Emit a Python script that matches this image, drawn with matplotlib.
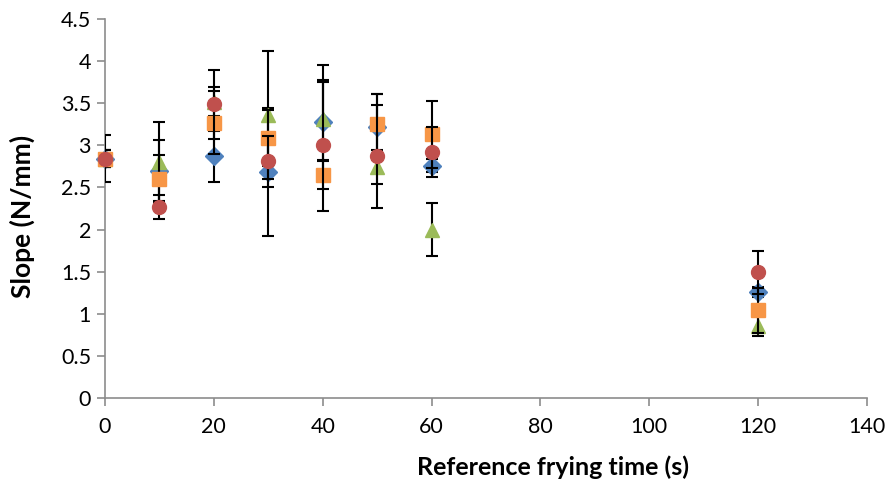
import matplotlib
matplotlib.use("Agg")
import matplotlib.pyplot as plt
from matplotlib.ticker import FuncFormatter

plt.rcParams["font.family"] = ["Lato", "DejaVu Sans"]

# reference frying time (s) and slope (N/mm) with standard deviations
time = [0, 10, 20, 30, 40, 50, 60, 120]

blue_vals = [2.84, 2.70, 2.87, 2.68, 3.28, 3.22, 2.76, 1.26]
blue_err = [0.10, 0.36, 0.30, 0.76, 0.47, 0.39, 0.08, 0.06]

green_vals = [2.84, 2.80, 3.52, 3.36, 3.31, 2.74, 2.00, 0.85]
green_err = [0.10, 0.48, 0.17, 0.76, 0.64, 0.20, 0.32, 0.12]

orange_vals = [2.84, 2.60, 3.27, 3.09, 2.65, 3.25, 3.13, 1.04]
orange_err = [0.10, 0.28, 0.37, 0.33, 0.17, 0.36, 0.40, 0.27]

red_vals = [2.84, 2.27, 3.49, 2.81, 3.00, 2.87, 2.92, 1.49]
red_err = [0.28, 0.14, 0.41, 0.30, 0.78, 0.61, 0.30, 0.26]

series = [
    (blue_vals, blue_err, "#4F81BD", "D", 9.5),
    (green_vals, green_err, "#9BBB59", "^", 10),
    (orange_vals, orange_err, "#F79646", "s", 9.5),
    (red_vals, red_err, "#C0504D", "o", 10),
]

fig = plt.figure(figsize=(8.85, 4.87), dpi=100)
ax = fig.add_axes([0.1186, 0.1828, 0.8611, 0.7782])

z = 2
for vals, err, col, mk, ms in series:
    ax.errorbar(time, vals, yerr=err, fmt="none", ecolor="black",
                elinewidth=1.5, capsize=4.3, capthick=1.5, zorder=z)
    ax.plot(time, vals, linestyle="none", marker=mk, markersize=ms,
            color=col, markeredgecolor=col, clip_on=False, zorder=z + 1)
    z += 2

ax.set_xlim(0, 140)
ax.set_ylim(0, 4.5)
ax.set_xticks(range(0, 141, 20))
ax.set_yticks([i * 0.5 for i in range(10)])
ax.yaxis.set_major_formatter(FuncFormatter(lambda v, p: f"{v:g}"))

for s in ("top", "right"):
    ax.spines[s].set_visible(False)
for s in ("left", "bottom"):
    ax.spines[s].set_color("#8C8C8C")
    ax.spines[s].set_linewidth(1.2)
ax.tick_params(axis="both", direction="out", length=6, width=1.2,
               color="#8C8C8C", labelsize=15.5, labelcolor="black")
ax.tick_params(axis="x", pad=8)
ax.tick_params(axis="y", pad=4)

ax.set_xlabel("Reference frying time (s)", fontsize=18, fontweight="bold")
ax.set_ylabel("Slope (N/mm)", fontsize=19, fontweight="bold")
ax.xaxis.set_label_coords(0.588, -0.152)
ax.yaxis.set_label_coords(-0.092, 0.478)

fig.savefig("out.png", dpi=100)
